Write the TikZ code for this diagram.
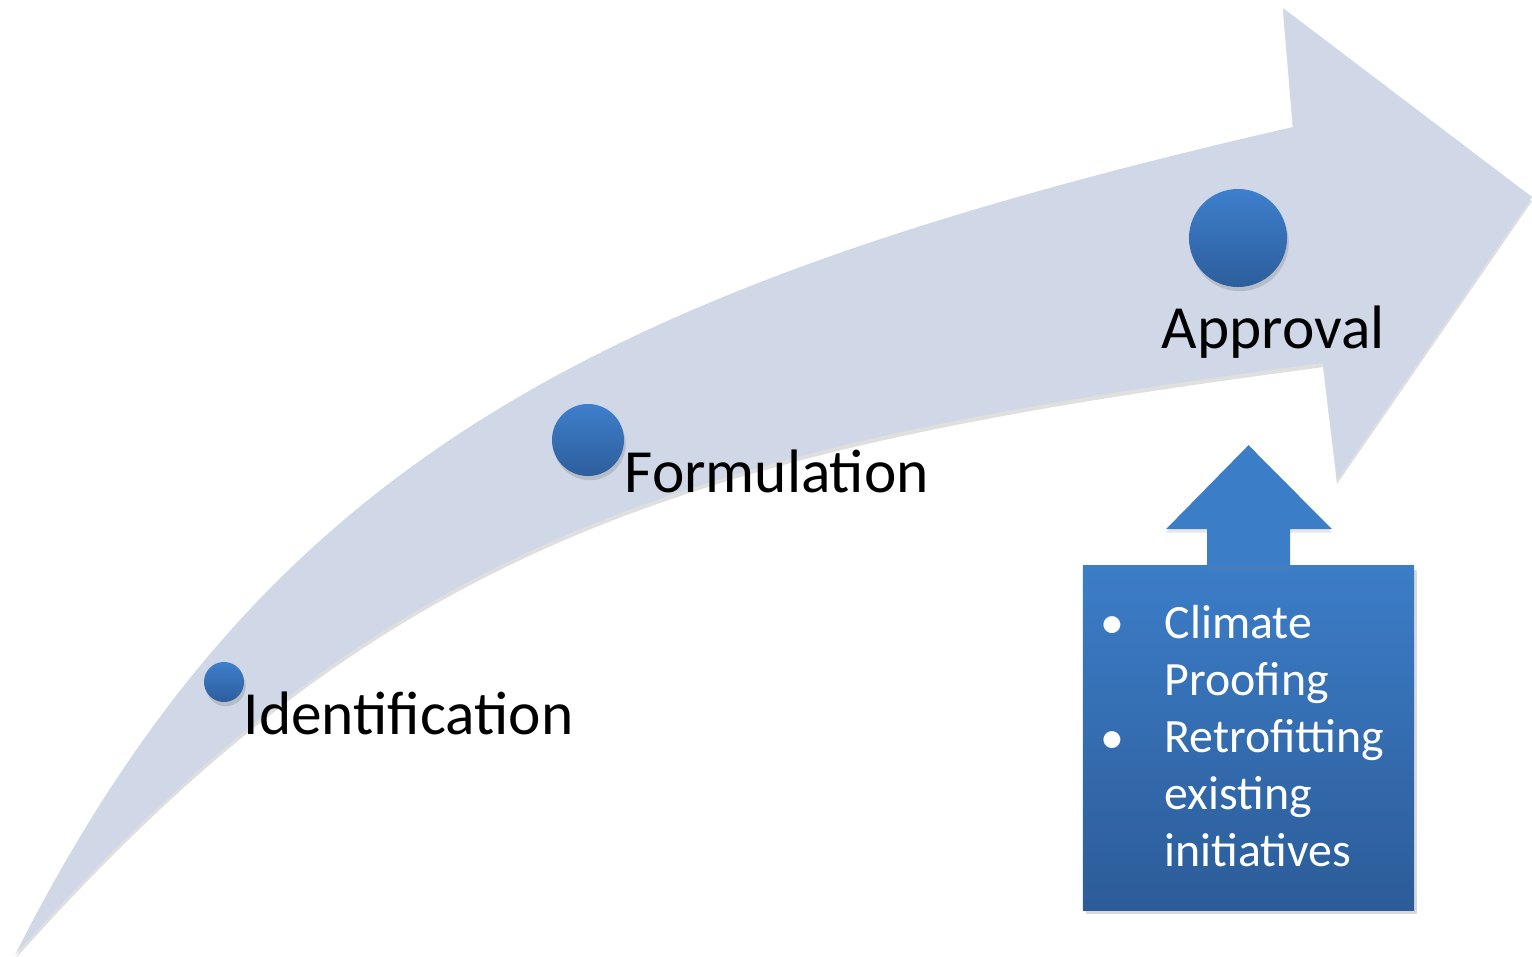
\documentclass[tikz,border=0pt]{standalone}
\usepackage{fontspec}
\setmainfont{Carlito}
\usepackage{tikz}
\usetikzlibrary{positioning}
\usetikzlibrary{calc,shadows}

\definecolor{BandFill}{RGB}{208,216,232}
\definecolor{DotTop}{RGB}{62,127,204}
\definecolor{DotBottom}{RGB}{45,94,156}
\definecolor{BoxTop}{RGB}{60,125,200}
\definecolor{BoxBottom}{RGB}{44,92,152}

\tikzset{
	stage/.style={circle, inner sep=0pt, top color=DotTop, bottom color=DotBottom,
		drop shadow={opacity=0.3, shadow xshift=0.5pt, shadow yshift=-1.2pt}},
	stagelabel/.style={anchor=base west, inner sep=0pt, font=\fontsize{17.45}{20}\selectfont},
	boxline/.style={anchor=base west, inner sep=0pt, text=white, font=\fontsize{13.6}{16}\selectfont},
}

\begin{document}
\begin{tikzpicture}[x=0.01cm, y=-0.01cm]
	\useasboundingbox (0,0) rectangle (1532,957);

	%Curved band
	\fill[BandFill, drop shadow={opacity=0.25, shadow xshift=0pt, shadow yshift=-1.2pt}]
		(15,955) .. controls (262,466) and (592,288) .. (1293,127)
		-- (1283,8) -- (1532,197) -- (1337,480) -- (1323,363)
		.. controls (688,446) and (387,537) .. (15,955) -- cycle;

	%Stages
	\node[stage, minimum size=0.40cm] (Ident) at (224,682) {};
	\node[stage, minimum size=0.72cm] (Form) at (588,440) {};
	\node[stage, minimum size=0.98cm] (Appr) at (1238,238) {};

	\node[stagelabel] (IdentText) at (243,734) {Identification};
	\node[stagelabel] (FormText) at (624,492) {Formulation};
	\node[stagelabel] (ApprText) at (1161,348) {Approval};

	%Box with up arrow
	\node[top color=BoxTop, bottom color=BoxBottom, minimum width=3.31cm, minimum height=3.44cm,
		inner sep=0pt, drop shadow={opacity=0.3, shadow xshift=0.8pt, shadow yshift=-1.2pt}] (Box) at (1248.5,738) {};

	\fill[BoxTop, drop shadow={opacity=0.2, shadow xshift=0pt, shadow yshift=-1pt}]
		($(Box.north)+(-41.5,1)$) -- ++(0,-37) -- ++(-41,0) -- ($(Box.north)+(0,-120)$)
		-- ($(Box.north)+(83.5,-36)$) -- ++(-42,0) -- ($(Box.north)+(41.5,1)$) -- cycle;

	\foreach \word [count=\i] in {Climate,Proofing,Retrofitting,existing,initiatives}
		\node[boxline] (Line\i) at (1164,581+57*\i) {\word};

	\node[boxline, anchor=base] (BulletA) at (1112,638) {\textbullet};
	\node[boxline, anchor=base] (BulletB) at (1112,753) {\textbullet};
\end{tikzpicture}
\end{document}
